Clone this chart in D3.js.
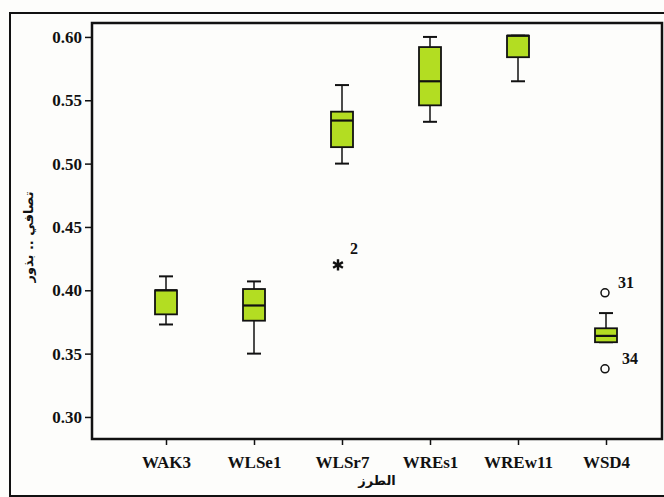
<!DOCTYPE html>
<html>
<head>
<meta charset="utf-8">
<script src="https://cdn.jsdelivr.net/npm/d3@7"></script>
<style>
  body { margin: 0; background: #fdfdfb; }
  .axis text { font-family: "Liberation Serif", serif; font-weight: bold; font-size: 17px; fill: #111; }
  .axis line { stroke: #111; stroke-width: 1.5; }
  .axis path { display: none; }
  .title { font-family: "DejaVu Sans", sans-serif; font-weight: bold; font-size: 13px; fill: #111; }
  .note { font-family: "Liberation Serif", serif; font-weight: bold; font-size: 16px; fill: #111; }
</style>
</head>
<body>
<div id="chart"></div>
<script>
var categories = ["WAK3", "WLSe1", "WLSr7", "WREs1", "WREw11", "WSD4"];
var whiskerLow  = [0.373, 0.350, 0.500, 0.533, 0.565, 0.359];
var q1          = [0.381, 0.376, 0.513, 0.546, 0.584, 0.359];
var median      = [0.400, 0.388, 0.534, 0.565, 0.601, 0.364];
var q3          = [0.400, 0.401, 0.541, 0.592, 0.601, 0.370];
var whiskerHigh = [0.411, 0.407, 0.562, 0.600, 0.601, 0.382];

var outlierCats   = ["WLSr7", "WSD4", "WSD4"];
var outlierValues = [0.420, 0.398, 0.338];
var outlierLabels = ["2", "31", "34"];
var outlierKinds  = ["extreme", "outlier", "outlier"];

var yTicks = [0.30, 0.35, 0.40, 0.45, 0.50, 0.55, 0.60];

var margin = { top: 23, left: 92, right: 2, bottom: 58 },
    width = 664 - margin.left - margin.right,
    height = 497 - margin.top - margin.bottom;

var root = d3.select("#chart")
  .append("svg")
  .attr("width", 664)
  .attr("height", 497);

// outer frame of the scanned figure
root.append("rect")
  .attr("x", 10)
  .attr("y", 13)
  .attr("width", 700)
  .attr("height", 483)
  .attr("fill", "none")
  .attr("stroke", "#111")
  .attr("stroke-width", 2)

var svg = root.append("g")
  .attr("transform", "translate(" + margin.left + "," + margin.top + ")")

var xPositionScale = d3.scalePoint()
  .domain(categories)
  .range([74, 514])

var yPositionScale = d3.scaleLinear()
  .domain([0.2826, 0.611])
  .range([height, 0])

var yAxis = d3.axisLeft(yPositionScale)
  .tickValues(yTicks)
  .tickFormat(d3.format(".2f"))
  .tickSize(7)
  .tickPadding(3)
svg.append("g")
  .attr("class", "axis y-axis")
  .call(yAxis)

var xAxis = d3.axisBottom(xPositionScale)
  .tickSize(6)
  .tickPadding(11)
svg.append("g")
  .attr("class", "axis x-axis")
  .attr("transform", "translate(0," + height + ")")
  .call(xAxis)

// plot frame
svg.append("rect")
  .attr("x", 0)
  .attr("y", 0)
  .attr("width", width)
  .attr("height", height)
  .attr("fill", "none")
  .attr("stroke", "#111")
  .attr("stroke-width", 2.5)

var boxW = 22, capW = 14;
var boxes = svg.selectAll(".box")
  .data(categories)
  .enter()
  .append("g")
  .attr("class", "box")
  .attr("transform", function(d) { return "translate(" + xPositionScale(d) + ",0)" })

// whiskers
boxes.append("line")
  .attr("x1", 0).attr("x2", 0)
  .attr("y1", function(d, i) { return yPositionScale(whiskerHigh[i]) })
  .attr("y2", function(d, i) { return yPositionScale(whiskerLow[i]) })
  .attr("stroke", "#111")
  .attr("stroke-width", 1.5)

boxes.append("line")
  .attr("x1", -capW / 2).attr("x2", capW / 2)
  .attr("y1", function(d, i) { return yPositionScale(whiskerHigh[i]) })
  .attr("y2", function(d, i) { return yPositionScale(whiskerHigh[i]) })
  .attr("stroke", "#111")
  .attr("stroke-width", 2)

boxes.append("line")
  .attr("x1", -capW / 2).attr("x2", capW / 2)
  .attr("y1", function(d, i) { return yPositionScale(whiskerLow[i]) })
  .attr("y2", function(d, i) { return yPositionScale(whiskerLow[i]) })
  .attr("stroke", "#111")
  .attr("stroke-width", 2)

boxes.append("rect")
  .attr("x", -boxW / 2)
  .attr("width", boxW)
  .attr("y", function(d, i) { return yPositionScale(q3[i]) })
  .attr("height", function(d, i) { return yPositionScale(q1[i]) - yPositionScale(q3[i]) })
  .attr("fill", "#b3dd22")
  .attr("stroke", "#111")
  .attr("stroke-width", 1.8)

boxes.append("line")
  .attr("x1", -boxW / 2).attr("x2", boxW / 2)
  .attr("y1", function(d, i) { return yPositionScale(median[i]) })
  .attr("y2", function(d, i) { return yPositionScale(median[i]) })
  .attr("stroke", "#111")
  .attr("stroke-width", 2.2)

// outliers
outlierValues.forEach(function(v, i) {
  var cx = xPositionScale(outlierCats[i]);
  var cy = yPositionScale(v);
  if (outlierKinds[i] == "extreme") {
    svg.append("path")
      .attr("transform", "translate(" + (cx - 4) + "," + cy + ")")
      .attr("d", d3.symbol().type(d3.symbolAsterisk).size(90)())
      .attr("fill", "none")
      .attr("stroke", "#111")
      .attr("stroke-width", 2.4)
    svg.append("text")
      .attr("class", "note")
      .attr("x", cx + 8)
      .attr("y", cy - 11)
      .text(outlierLabels[i])
  } else {
    svg.append("circle")
      .attr("cx", cx - 1)
      .attr("cy", cy)
      .attr("r", 4)
      .attr("fill", "none")
      .attr("stroke", "#111")
      .attr("stroke-width", 1.5)
    svg.append("text")
      .attr("class", "note")
      .attr("x", cx + 12 + (i == 2 ? 4 : 0))
      .attr("y", cy - 5)
      .text(outlierLabels[i])
  }
})

// axis titles
svg.append("text")
  .attr("class", "title")
  .attr("x", width / 2)
  .attr("y", height + 46)
  .attr("text-anchor", "middle")
  .text("الطرز")

svg.append("text")
  .attr("class", "title")
  .attr("transform", "translate(" + (-59) + "," + (height / 2 + 6) + ") rotate(-90)")
  .attr("text-anchor", "middle")
  .text("تصافي .. بذور")
</script>
</body>
</html>
